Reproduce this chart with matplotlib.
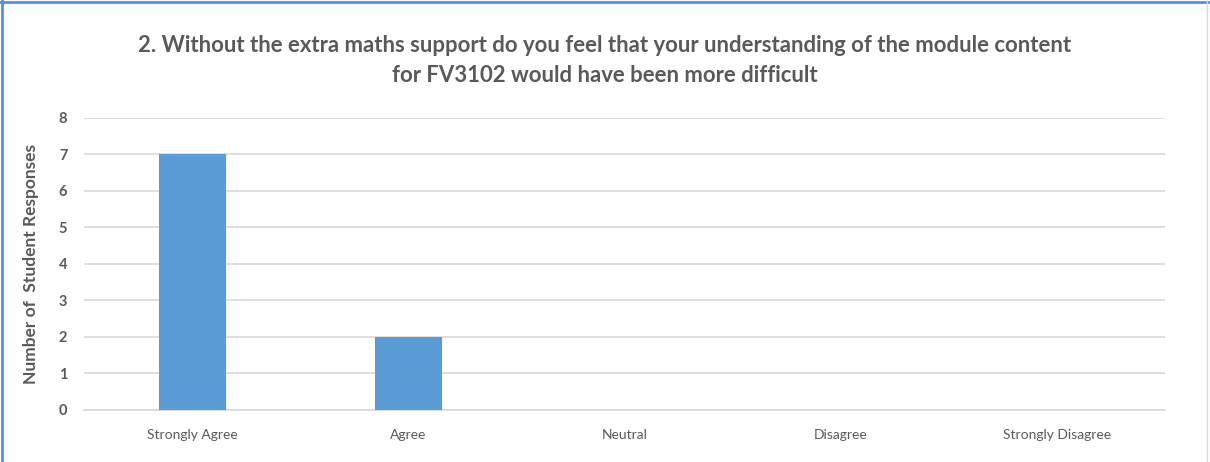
import matplotlib.pyplot as plt
from matplotlib.lines import Line2D

categories = ['Strongly Agree', 'Agree', 'Neutral', 'Disagree', 'Strongly Disagree']
responses = [7, 2, 0, 0, 0]
title = ('2. Without the extra maths support do you feel that your understanding of the module content\n'
         'for FV3102 would have been more difficult')

plt.rcParams['font.family'] = ['Lato', 'DejaVu Sans']

fig = plt.figure(figsize=(12.1, 4.62), dpi=100)
ax = fig.add_axes([0.0694, 0.1126, 0.8935, 0.632])

x = range(len(categories))
ax.bar(x, responses, width=0.31, color='#5b9bd5', zorder=3)

ax.set_xlim(-0.5, len(categories) - 0.5)
ax.set_ylim(0, 8)
ax.set_yticks(range(0, 9))
ax.set_xticks(list(x))
ax.set_xticklabels(categories)
ax.grid(axis='y', color='#d9d9d9', linewidth=1.2, zorder=0)
for s in ['top', 'right', 'left']:
    ax.spines[s].set_visible(False)
ax.spines['bottom'].set_color('#d9d9d9')
ax.spines['bottom'].set_linewidth(1.2)
ax.tick_params(length=0, labelsize=10, colors='#595959')
ax.tick_params(axis='x', pad=14)
ax.tick_params(axis='y', pad=12, labelsize=10.5)
for t in ax.get_yticklabels():
    t.set_fontweight('bold')

ax.set_ylabel('Number of  Student Responses', fontsize=12.5, fontweight='bold', color='#595959', labelpad=14)
fig.text(0.5, 0.925, title, ha='center', va='top', fontsize=15.9, fontweight='bold',
         color='#595959', linespacing=1.55)

# chart border
fig.add_artist(Line2D([0, 1], [0.996, 0.996], color='#5b8fd5', linewidth=2, transform=fig.transFigure))
fig.add_artist(Line2D([0.002, 0.002], [0, 1], color='#5b8fd5', linewidth=2, transform=fig.transFigure))
fig.add_artist(Line2D([0.9975, 0.9975], [0, 1], color='#d9d9d9', linewidth=1, transform=fig.transFigure))

fig.savefig('out.png', dpi=100)
